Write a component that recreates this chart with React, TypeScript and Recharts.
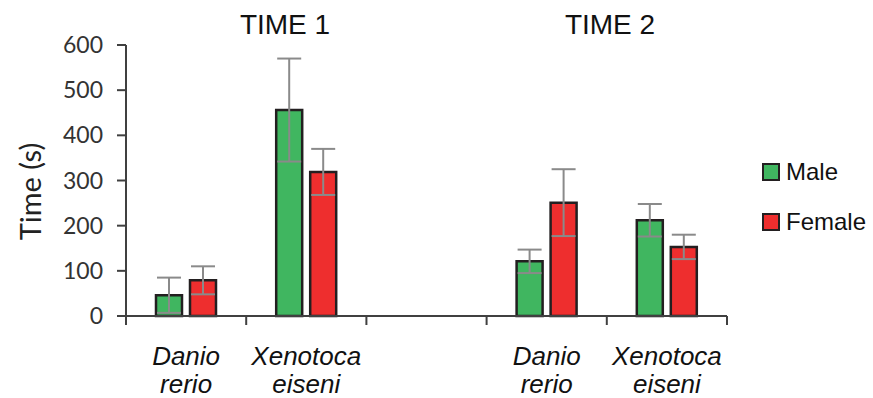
import { BarChart, Bar, XAxis, YAxis, ErrorBar } from 'recharts';

const categories = ['Danio rerio', 'Xenotoca eiseni', '', 'Danio rerio', 'Xenotoca eiseni'];
const maleMeans = [46, 456, null, 121, 212];
const maleErrors = [39, 114, null, 26, 36];
const femaleMeans = [79, 319, null, 251, 153];
const femaleErrors = [31, 51, null, 74, 27];
const yTicks = [0, 100, 200, 300, 400, 500, 600];
const groupTitles = ['TIME 1', 'TIME 2'];
const seriesNames = ['Male', 'Female'];
const seriesColors = ['#40b660', '#ee2e2e'];

const data = categories.map((name, i) => ({
  name,
  male: maleMeans[i],
  maleErr: maleErrors[i],
  female: femaleMeans[i],
  femaleErr: femaleErrors[i],
}));

const AXIS = '#404040';
const OUTLINE = '#231f20';
const SANS = '"Liberation Sans", Arial, sans-serif';

// label under each category, plus the tick marks the original puts on the
// category edges rather than the centres
function SpeciesTick({ x, y, payload, index }: any) {
  const label = String(payload?.value ?? '');
  const half = payload?.offset ?? 60;
  const last = index === categories.length - 1;
  return (
    <g>
      <line x1={x - half} y1={y} x2={x - half} y2={y + 9} stroke={AXIS} strokeWidth={2} />
      {last && <line x1={x + half} y1={y} x2={x + half} y2={y + 9} stroke={AXIS} strokeWidth={2} />}
      {label && (
        <text x={x} y={y} textAnchor="middle" fontFamily={SANS} fontStyle="italic" fontSize={26} fill="#111">
          {label.split(' ').map((w, i) => (
            <tspan key={i} x={x} dy={i === 0 ? 49 : 28}>
              {w}
            </tspan>
          ))}
        </text>
      )}
    </g>
  );
}

function YTitle({ viewBox }: any) {
  const cx = viewBox.x + 29;
  const cy = viewBox.y + viewBox.height / 2 + 11;
  return (
    <text
      x={cx}
      y={cy}
      transform={`rotate(-90 ${cx} ${cy})`}
      textAnchor="middle"
      dominantBaseline="central"
      fontFamily="Lato, sans-serif"
      fontSize={29}
      fill="#222"
    >
      Time (s)
    </text>
  );
}

const titleCenters = [285, 610];

export default function App() {
  return (
    <div style={{ position: 'absolute', left: 0, top: 0, width: 873, height: 398, background: '#fff' }}>
      <BarChart
        width={873}
        height={398}
        data={data}
        margin={{ top: 45, right: 146, bottom: 0, left: 0 }}
        barGap={8}
      >
        <XAxis
          dataKey="name"
          axisLine={{ stroke: AXIS, strokeWidth: 2 }}
          tickLine={false}
          tickSize={0}
          tickMargin={0}
          height={82}
          interval={0}
          tick={<SpeciesTick />}
        />
        <YAxis
          width={126}
          domain={[0, 600]}
          ticks={yTicks}
          tickSize={9}
          tickMargin={14}
          tick={{ fontFamily: 'Lato, sans-serif', fontSize: 23, fill: '#333' }}
          axisLine={{ stroke: AXIS, strokeWidth: 2 }}
          tickLine={{ stroke: AXIS, strokeWidth: 2 }}
          label={{ content: <YTitle /> }}
        />
        <Bar dataKey="male" name={seriesNames[0]} fill={seriesColors[0]} stroke={OUTLINE} strokeWidth={2.5} barSize={26} isAnimationActive={false}>
          <ErrorBar dataKey="maleErr" width={12} stroke="#8a8a8a" strokeWidth={2} direction="y" />
        </Bar>
        <Bar dataKey="female" name={seriesNames[1]} fill={seriesColors[1]} stroke={OUTLINE} strokeWidth={2.5} barSize={26} isAnimationActive={false}>
          <ErrorBar dataKey="femaleErr" width={12} stroke="#8a8a8a" strokeWidth={2} direction="y" />
        </Bar>
      </BarChart>
      {groupTitles.map((t, i) => (
        <div
          key={t}
          style={{
            position: 'absolute',
            left: titleCenters[i],
            top: 11,
            transform: 'translateX(-50%)',
            fontFamily: SANS,
            fontSize: 28,
            lineHeight: '28px',
            color: '#111',
            whiteSpace: 'nowrap',
          }}
        >
          {t}
        </div>
      ))}
      <div style={{ position: 'absolute', left: 762, top: 147, fontFamily: SANS, fontSize: 24, color: '#111' }}>
        {seriesNames.map((n, i) => (
          <div key={n} style={{ display: 'flex', alignItems: 'center', height: 50 }}>
            <span
              style={{
                display: 'inline-block',
                width: 14,
                height: 14,
                background: seriesColors[i],
                border: `2px solid ${OUTLINE}`,
                marginRight: 6,
              }}
            />
            {n}
          </div>
        ))}
      </div>
    </div>
  );
}
